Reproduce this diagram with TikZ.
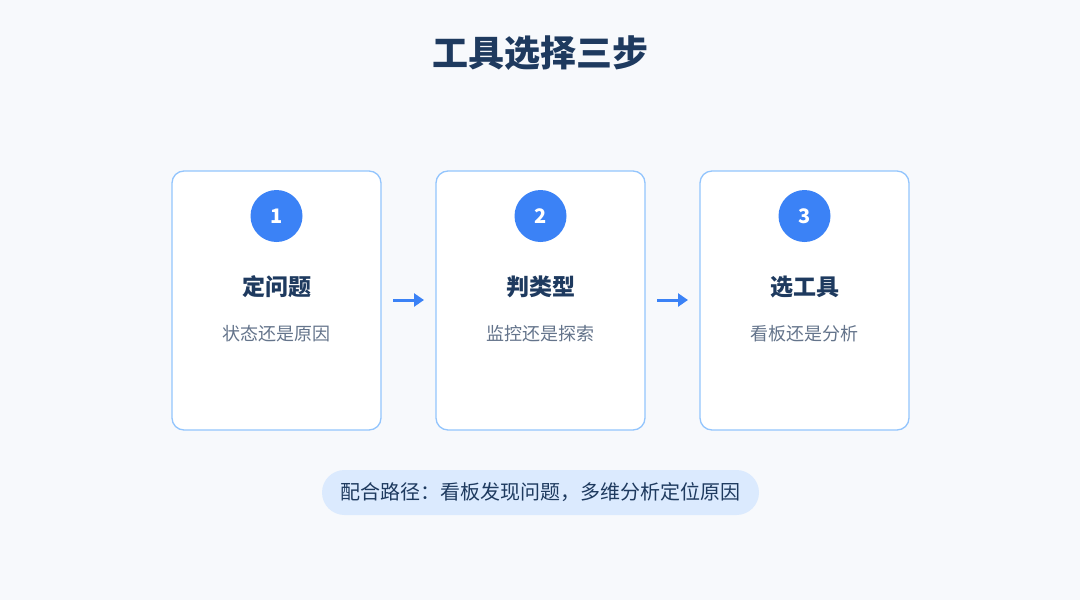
\documentclass[tikz,border=0pt]{standalone}
\usepackage{fontspec}
\setmainfont{Noto Sans CJK SC}
\newfontfamily\cjk{Noto Sans CJK SC}
\usetikzlibrary{arrows.meta}
\definecolor{bgc}{HTML}{F7F9FC}
\definecolor{navy}{HTML}{1E3A5F}
\definecolor{cardborder}{HTML}{93C5FD}
\definecolor{accent}{HTML}{3B82F6}
\definecolor{subgray}{HTML}{64748B}
\definecolor{pillfill}{HTML}{DBEAFE}
\tikzset{
  card/.style={draw=cardborder, line width=1.3pt, fill=white, rounded corners=12pt, minimum width=209pt, minimum height=259pt, inner sep=0pt},
  numcircle/.style={circle, fill=accent, minimum size=52pt, inner sep=0pt, text=white, font=\cjk\bfseries\fontsize{20}{24}\selectfont},
  cardtitle/.style={text=navy, font=\cjk\bfseries\fontsize{23}{27}\selectfont},
  cardsub/.style={text=subgray, font=\cjk\fontsize{18}{21}\selectfont},
  flow/.style={draw=accent, line width=3pt, -{Triangle[length=10pt,width=13pt]}},
  pill/.style={fill=pillfill, rounded corners=22.5pt, minimum width=437pt, minimum height=45pt, inner sep=0pt, text=navy, font=\cjk\fontsize{20}{23}\selectfont}
}
\begin{document}
\begin{tikzpicture}[x=1pt,y=-1pt]
\fill[bgc] (0,0) rectangle (1080,600);
\useasboundingbox (0,0) rectangle (1080,600);
\node[text=navy, font=\cjk\bfseries\fontsize{36}{40}\selectfont] (title) at (540,53) {工具选择三步};
% cards
\node[card] (c1) at (276.5,300.5) {};
\node[card] (c2) at (540.5,300.5) {};
\node[card] (c3) at (804.5,300.5) {};
\node[numcircle] (n1) at (276.5,216) {1};
\node[numcircle] (n2) at (540.5,216) {2};
\node[numcircle] (n3) at (804.5,216) {3};
\node[cardtitle] (t1) at (276.5,287) {定问题};
\node[cardtitle] (t2) at (540.5,287) {判类型};
\node[cardtitle] (t3) at (804.5,287) {选工具};
\node[cardsub] (s1) at (276.5,334) {状态还是原因};
\node[cardsub] (s2) at (540.5,334) {监控还是探索};
\node[cardsub] (s3) at (804.5,334) {看板还是分析};
\coordinate (a1s) at (393,300);
\coordinate (a1e) at (424,300);
\coordinate (a2s) at (657,300);
\coordinate (a2e) at (688,300);
\draw[flow] (a1s) -- (a1e);
\draw[flow] (a2s) -- (a2e);
\node[pill] (p) at (540.5,492.5) {配合路径：看板发现问题，多维分析定位原因};
\end{tikzpicture}
\end{document}
